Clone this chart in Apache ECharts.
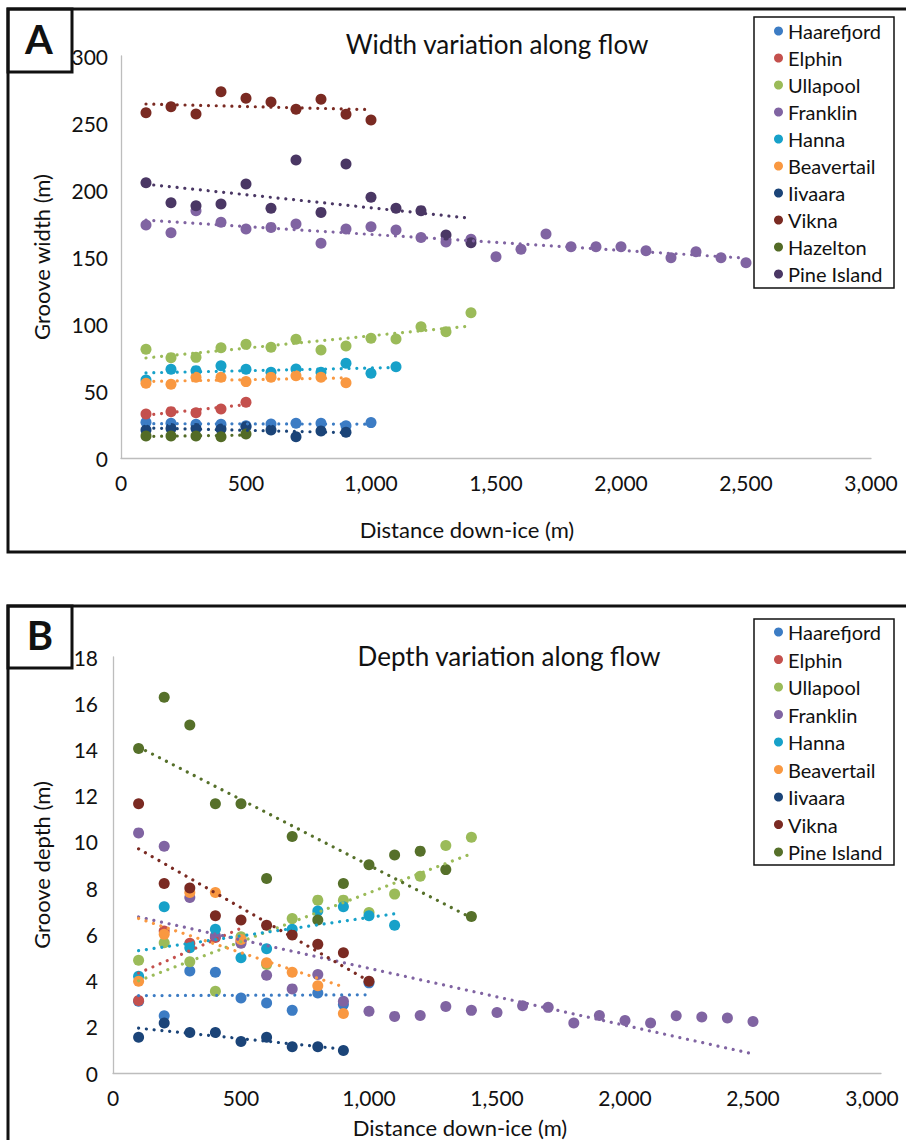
<!DOCTYPE html>
<html><head><meta charset="utf-8">
<script src="https://cdn.jsdelivr.net/npm/echarts@6/dist/echarts.min.js"></script>
<style>
html,body{margin:0;padding:0;background:#fff;width:906px;height:1140px;overflow:hidden;}
#a,#b{position:absolute;left:0;top:0;width:906px;height:1140px;}
</style></head><body>
<div id="a"></div><div id="b"></div>
<script>
// Distance down-ice (m), one value per sampled point
const distance = [100,200,300,400,500,600,700,800,900,1000,1100,1200,1300,1400,1500,1600,1700,1800,1900,2000,2100,2200,2300,2400,2500];
const xTicks = [0,500,1000,1500,2000,2500,3000];

// Panel A: groove width (m)
const namesA = ['Haarefjord','Elphin','Ullapool','Franklin','Hanna','Beavertail','Iivaara','Vikna','Hazelton','Pine Island'];
const colorsA = ['#3C7CC4','#C4504D','#9BBB59','#8064A2','#17A1C9','#F99841','#1B4478','#7A2A22','#536B26','#4A3764'];
const widthHaarefjord = [26.6,25.9,25.1,25.1,24.1,25.4,25.9,25.9,24.1,26.4];
const widthElphin = [32.8,34.6,33.8,36.6,41.6];
const widthUllapool = [81.1,74.9,75.1,82.3,84.8,82.6,88.6,80.6,83.6,89.3,88.8,98.0,94.3,108.4];
const widthFranklin = [173.9,168.1,184.6,175.9,170.9,172.1,174.6,160.2,170.9,172.6,170.1,164.5,161.2,163.2,150.2,155.7,167.2,157.7,157.7,157.7,154.7,149.5,154.0,149.5,145.7];
const widthHanna = [58.2,66.2,65.2,68.9,66.2,64.0,66.4,64.0,70.7,63.2,68.1];
const widthBeavertail = [55.7,55.0,60.2,60.2,57.0,60.2,61.4,60.2,56.2];
const widthIivaara = [20.9,22.1,22.1,21.6,23.4,20.9,15.9,20.1,19.2];
const widthVikna = [257.7,262.2,256.7,273.4,268.4,265.7,260.2,267.7,256.5,252.2];
const widthHazelton = [16.4,16.4,16.4,15.9,17.9];
const widthPineIsland = [205.4,190.5,188.3,189.6,204.5,186.3,222.4,183.3,219.4,194.6,186.3,184.6,166.4,160.7];
const valuesA = [widthHaarefjord,widthElphin,widthUllapool,widthFranklin,widthHanna,widthBeavertail,widthIivaara,widthVikna,widthHazelton,widthPineIsland];

// Panel B: groove depth (m)
const namesB = ['Haarefjord','Elphin','Ullapool','Franklin','Hanna','Beavertail','Iivaara','Vikna','Pine Island'];
const colorsB = ['#3C7CC4','#C4504D','#9BBB59','#8064A2','#17A1C9','#F99841','#1B4478','#7A2A22','#56702A'];
const depthHaarefjord = [3.10,2.48,4.41,4.36,3.25,3.03,2.71,3.46,2.96,3.90];
const depthElphin = [3.14,6.14,5.61,5.86,5.71];
const depthUllapool = [4.88,5.64,4.81,3.54,5.90,4.70,6.68,7.48,7.48,6.94,7.74,8.51,9.84,10.20];
const depthFranklin = [10.39,9.81,7.59,5.93,5.61,4.23,3.64,4.26,3.10,2.67,2.45,2.49,2.88,2.71,2.62,2.91,2.84,2.16,2.49,2.27,2.16,2.48,2.42,2.38,2.23];
const depthHanna = [4.19,7.19,5.42,6.22,4.99,5.38,6.22,7.01,7.19,6.80,6.39];
const depthBeavertail = [3.97,6.00,7.81,7.81,5.78,4.77,4.36,3.78,2.57];
const depthIivaara = [1.55,2.16,1.75,1.75,1.36,1.55,1.14,1.14,0.97];
const depthVikna = [11.65,8.20,8.00,6.80,6.62,6.39,5.97,5.57,5.20,3.97];
const depthPineIsland = [14.04,16.26,15.06,11.65,11.65,8.42,10.23,6.62,8.20,9.01,9.43,9.60,8.80,6.77];
const valuesB = [depthHaarefjord,depthElphin,depthUllapool,depthFranklin,depthHanna,depthBeavertail,depthIivaara,depthVikna,depthPineIsland];

const FONT = 'Lato, "Open Sans", sans-serif';

function trend(pts){
  const n = pts.length;
  let mx=0,my=0; pts.forEach(p=>{mx+=p[0];my+=p[1];}); mx/=n; my/=n;
  let sxy=0,sxx=0; pts.forEach(p=>{sxy+=(p[0]-mx)*(p[1]-my); sxx+=(p[0]-mx)*(p[0]-mx);});
  const b = sxy/sxx, a = my-b*mx;
  const x0 = pts[0][0], x1 = pts[n-1][0];
  return [[x0,a+b*x0],[x1,a+b*x1]];
}

function buildSeries(names, colors, values){
  const sc = [], tl = [];
  names.forEach((nm,i)=>{
    const pts = values[i].map((v,k)=>[distance[k], v]);
    sc.push({type:'scatter', name:nm, data:pts, symbol:'circle', symbolSize:11,
      itemStyle:{color:colors[i], opacity:1}, z:2, silent:true});
    tl.push({type:'line', name:nm+' trendline', data:trend(pts), symbol:'none', silent:true, z:3,
      lineStyle:{color:colors[i], width:3.2, type:[0.01,7.8], cap:'round'}});
  });
  return sc.concat(tl);
}

function axisX(shiftLast){
  const maxV = xTicks[xTicks.length-1];
  return {type:'value', min:xTicks[0], max:maxV, interval:xTicks[1]-xTicks[0],
    axisLine:{show:true, onZero:false, lineStyle:{color:'#BDBDBD', width:1.3}},
    axisTick:{show:false}, splitLine:{show:false},
    axisLabel:{fontFamily:FONT, fontSize:21, color:'#111', margin:14, showMinLabel:true, showMaxLabel:true,
      formatter:v=>(shiftLast && v===maxV) ? '{e|'+v.toLocaleString('en-US')+'}' : v.toLocaleString('en-US'),
      rich:{e:{fontFamily:FONT, fontSize:21, color:'#111', padding:[0,18,0,0]}}}};
}

function buildOption(p){
  return {
    animation:false,
    backgroundColor:'transparent',
    grid:Object.assign({containLabel:false, outerBoundsMode:'none'}, p.grid),
    xAxis:axisX(p.shiftLast),
    yAxis:{type:'value', min:0, max:p.ymax, interval:p.yint,
      name:p.yname, nameLocation:'middle', nameGap:p.nameGap, nameRotate:90,
      nameTextStyle:{fontFamily:FONT, fontSize:22, color:'#111'},
      axisLine:{show:true, lineStyle:{color:'#BDBDBD', width:1.3}},
      axisTick:{show:false}, splitLine:{show:false},
      axisLabel:{fontFamily:FONT, fontSize:21, color:'#111', margin:p.ymargin, padding:p.ypad, showMinLabel:true, showMaxLabel:true}},
    legend:{orient:'vertical', left:p.legend.left, top:p.legend.top, padding:[4,8,4,20],
      itemGap:p.legend.gap, itemWidth:9, itemHeight:9, icon:'circle', selectedMode:false,
      textStyle:{fontFamily:FONT, fontSize:20, color:'#111', lineHeight:20},
      data:p.names},
    graphic:{elements:p.graphics},
    series:buildSeries(p.names, p.colors, p.values)
  };
}

function txt(x,y,text,size,weight,rot){
  return {type:'text', x:x, y:y, rotation:rot||0, silent:true, z:10,
    style:{text:text, fontFamily:FONT, fontSize:size, fontWeight:weight||'normal', fill:'#111', align:'center', verticalAlign:'middle'}};
}
function box(x,y,w,h,lw){
  return {type:'rect', silent:true, z:10, shape:{x:x,y:y,width:w,height:h}, style:{fill:'none', stroke:'#111', lineWidth:lw}};
}

const chartA = echarts.init(document.getElementById('a'), null, {renderer:'svg'});
chartA.setOption(buildOption({
  grid:{left:121, top:56, width:750, height:402},
  ymax:300, yint:50, yname:'Groove width (m)', nameGap:69, ymargin:13, ypad:[0,0,14,0],
  legend:{left:754, top:17, gap:7},
  names:namesA, colors:colorsA, values:valuesA, shiftLast:false,
  graphics:[
    box(8,9,940,543,3), box(8,9,64,63,3),
    txt(39,39,'A',40,'bold'),
    txt(497,44,'Width variation along flow',26),
    txt(467,529,'Distance down-ice (m)',22),
    box(754,17,140,271,1.5)
  ]
}));

const chartB = echarts.init(document.getElementById('b'), null, {renderer:'svg'});
chartB.setOption(buildOption({
  grid:{left:113, top:657, width:768, height:416},
  ymax:18, yint:2, yname:'Groove depth (m)', nameGap:61, ymargin:15, ypad:[0,0,0,0],
  legend:{left:754, top:618, gap:7.5},
  names:namesB, colors:colorsB, values:valuesB, shiftLast:true,
  graphics:[
    box(8,606,940,600,3), box(8,606,64,62,3),
    txt(40,635,'B',40,'bold'),
    txt(509,656,'Depth variation along flow',26),
    txt(460,1127,'Distance down-ice (m)',22),
    box(754,619,140,246,1.5)
  ]
}));
</script>
</body></html>
